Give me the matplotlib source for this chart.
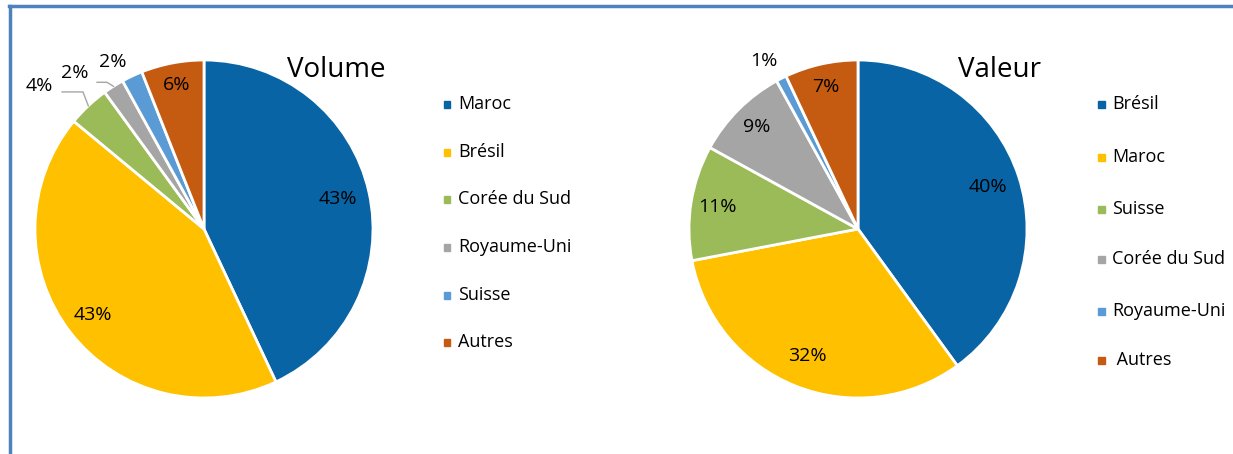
import numpy as np
import matplotlib.pyplot as plt
from matplotlib.patches import Rectangle
from matplotlib.lines import Line2D

plt.rcParams['font.family'] = ['Open Sans', 'DejaVu Sans']

# parts de marché (%)
vol_labels = ["Maroc", "Brésil", "Corée du Sud", "Royaume-Uni", "Suisse", "Autres"]
vol_values = [43, 43, 4, 2, 2, 6]
val_labels = ["Brésil", "Maroc", "Suisse", "Corée du Sud", "Royaume-Uni", " Autres"]
val_values = [40, 32, 11, 9, 1, 7]

blue = "#0864A4"
yellow = "#FFC000"
green = "#9BBB59"
grey = "#A5A5A5"
lblue = "#5B9BD5"
orange = "#C55A11"
vol_colors = [blue, yellow, green, grey, lblue, orange]
val_colors = [blue, yellow, green, grey, lblue, orange]

W, H = 1233, 454
fig = plt.figure(figsize=(W / 100, H / 100), dpi=100)


def px_axes(cx, cy, r):
    return fig.add_axes([(cx - r) / W, (H - cy - r) / H, 2 * r / W, 2 * r / H])


def draw_pie(ax, values, colors, dist, fixed):
    wedges, _ = ax.pie(values, colors=colors, startangle=90, counterclock=False,
                       wedgeprops=dict(edgecolor="white", linewidth=2))
    ax.set_xlim(-1, 1)
    ax.set_ylim(-1, 1)
    for i, (w, v) in enumerate(zip(wedges, values)):
        if i in fixed:
            x, y = fixed[i]
        else:
            a = np.radians((w.theta1 + w.theta2) / 2)
            x, y = dist[i] * np.cos(a), dist[i] * np.sin(a)
        ax.text(x, y, f"{v}%", ha="center", va="center", fontsize=14, color="black")
    return wedges


ax1 = px_axes(204, 229, 169)
w1 = draw_pie(ax1, vol_values, vol_colors, [0.81, 0.83, 0, 0, 0, 0.87],
              {2: (-0.976, 0.846), 3: (-0.763, 0.923), 4: (-0.538, 0.988)})
# lignes de rappel pour les petites parts
for i, (x0, x1, y0) in {2: (-0.840, -0.716, 0.811), 3: (-0.633, -0.574, 0.868)}.items():
    a = np.radians((w1[i].theta1 + w1[i].theta2) / 2)
    ax1.add_line(Line2D([x0, x1, np.cos(a)], [y0, y0, np.sin(a)],
                        color="#A6A6A6", lw=1, clip_on=False))

ax2 = px_axes(858, 229, 169)
draw_pie(ax2, val_values, val_colors, [0.81, 0.81, 0.84, 0.85, 0, 0.86],
         {4: (-0.556, 0.994)})

fig.text(287 / W, 1 - 70 / H, "Volume", fontsize=20, va="center", ha="left")
fig.text(958 / W, 1 - 70 / H, "Valeur", fontsize=20, va="center", ha="left")


def legend(labels, colors, xm, rows):
    for lab, c, y in zip(labels, colors, rows):
        fig.patches.append(Rectangle(((xm - 3.5) / W, 1 - (y + 3.5) / H), 7 / W, 7 / H,
                                     color=c, transform=fig.transFigure))
        fig.text((xm + 11) / W, 1 - y / H, lab, fontsize=13, va="center", ha="left")


legend(vol_labels, vol_colors, 447, [104, 152, 199, 247, 295, 342])
legend(val_labels, val_colors, 1101, [104, 157, 209, 259, 311, 360])

# cadre
frame = "#4F81BD"
fig.add_artist(Line2D([9 / W, 1], [1 - 6 / H, 1 - 6 / H], color=frame, lw=2.5,
                      transform=fig.transFigure))
fig.add_artist(Line2D([9.5 / W, 9.5 / W], [1 - 6 / H, 0], color=frame, lw=2.5,
                      transform=fig.transFigure))

fig.savefig("out.png", dpi=100)
